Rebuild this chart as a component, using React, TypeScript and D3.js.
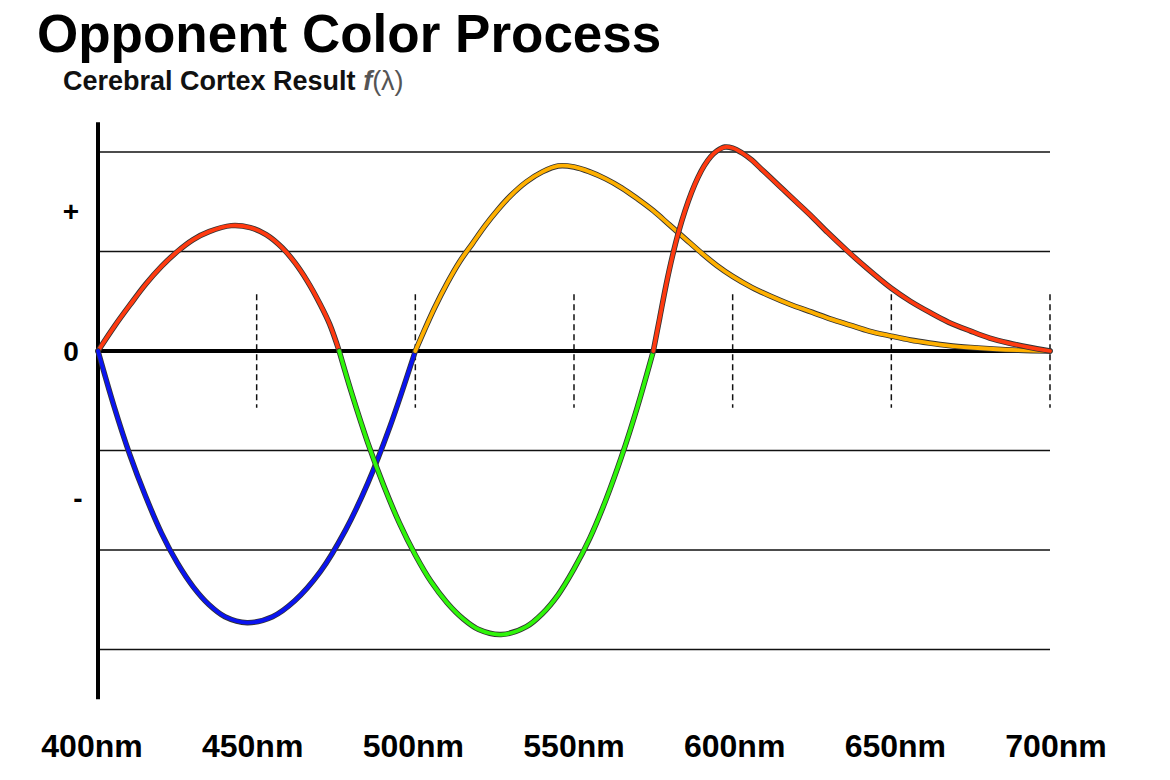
import * as d3 from "d3";

// wavelength (nm) / relative response
const redShort: [number, number][] = [
  [400, 0], [405, 0.24], [410, 0.46], [415, 0.67], [420, 0.85], [425, 1.0],
  [430, 1.12], [435, 1.2], [442, 1.26], [448, 1.24], [453, 1.17], [458, 1.04],
  [462, 0.89], [466, 0.7], [470, 0.47], [473, 0.27], [476, 0],
];
const blue: [number, number][] = [
  [400, 0], [405, -0.55], [410, -1.04], [415, -1.46], [420, -1.83], [425, -2.13],
  [430, -2.37], [435, -2.55], [440, -2.67], [447, -2.73], [455, -2.67],
  [462, -2.51], [470, -2.22], [478, -1.8], [485, -1.33], [492, -0.76], [500, 0],
];
const green: [number, number][] = [
  [476, 0], [480, -0.43], [485, -0.92], [490, -1.35], [495, -1.73], [500, -2.05],
  [505, -2.32], [510, -2.53], [515, -2.69], [520, -2.8], [527, -2.85],
  [535, -2.77], [540, -2.64], [545, -2.45], [550, -2.19], [555, -1.88],
  [560, -1.5], [565, -1.06], [570, -0.56], [575, 0],
];
const yellow: [number, number][] = [
  [500, 0], [503, 0.22], [506, 0.43], [510, 0.68], [514, 0.9], [518, 1.08],
  [522, 1.26], [526, 1.42], [530, 1.56], [535, 1.7], [540, 1.8], [545, 1.86],
  [550, 1.85], [555, 1.8], [560, 1.73], [565, 1.64], [570, 1.53], [575, 1.41],
  [580, 1.27], [585, 1.13], [590, 0.99], [595, 0.86], [600, 0.75], [606, 0.64],
  [612, 0.55], [618, 0.47], [625, 0.39], [631, 0.32], [637, 0.26], [643, 0.2],
  [650, 0.15], [656, 0.11], [662, 0.08], [668, 0.055], [675, 0.035],
  [682, 0.02], [690, 0.008], [700, 0],
];
const redLong: [number, number][] = [
  [575, 0], [577, 0.33], [579, 0.66], [581, 0.95], [583, 1.2], [585, 1.41],
  [587, 1.59], [589, 1.74], [591, 1.86], [593, 1.95], [595, 2.01], [597.5, 2.05],
  [600, 2.04], [603, 1.99], [606, 1.92], [609, 1.83], [612, 1.74], [616, 1.62],
  [620, 1.5], [625, 1.35], [630, 1.19], [636, 1.01], [642, 0.84], [650, 0.63],
  [656, 0.5], [662, 0.39], [668, 0.29], [675, 0.2], [681, 0.13], [687, 0.08],
  [693, 0.04], [700, 0],
];

const xTicks = [400, 450, 500, 550, 600, 650, 700];
const dashTicks = [450, 500, 550, 600, 650, 700];
const gridValues = [2, 1, -1, -2, -3];
const yLabels = [
  { text: "+", v: 1.41 },
  { text: "0", v: 0 },
  { text: "-", v: -1.48 },
];

const series = [
  { name: "red-short", data: redShort, color: "#ff3a10" },
  { name: "blue", data: blue, color: "#0a14f0" },
  { name: "green", data: green, color: "#2ff50a" },
  { name: "yellow", data: yellow, color: "#ffb000" },
  { name: "red-long", data: redLong, color: "#ff3a10" },
];

const width = 1170;
const height = 780;
const font = "'Liberation Sans', Arial, sans-serif";

const x = d3.scaleLinear().domain([400, 700]).range([98, 1050]);
const y = d3.scaleLinear().domain([0, 1]).range([351, 251.5]);

const line = d3
  .line<[number, number]>()
  .x((d) => x(d[0]))
  .y((d) => y(d[1]))
  .curve(d3.curveCatmullRom.alpha(0.5));

export default function App() {
  return (
    <div style={{ position: "absolute", left: 0, top: 0 }}>
      <svg width={width} height={height} viewBox={`0 0 ${width} ${height}`} style={{ display: "block", background: "#fff" }}>
        <text x={37} y={52} fontFamily={font} fontSize={53} fontWeight={700} fill="#000">
          Opponent Color Process
        </text>
        <text x={63} y={90} fontFamily={font} fontSize={27} fontWeight={700} fill="#111">
          Cerebral Cortex Result{" "}
          <tspan fontStyle="italic" fill="#555">f</tspan>
          <tspan fontWeight={400} fill="#555">(λ)</tspan>
        </text>

        {gridValues.map((v) => (
          <line key={v} x1={x(400)} x2={x(700)} y1={y(v)} y2={y(v)} stroke="#111" strokeWidth={1.4} />
        ))}

        {dashTicks.map((t) => (
          <line
            key={t}
            x1={x(t)}
            x2={x(t)}
            y1={y(0.57)}
            y2={y(-0.57)}
            stroke="#111"
            strokeWidth={1.5}
            strokeDasharray="6,4"
          />
        ))}

        <line x1={x(400)} x2={x(700)} y1={y(0)} y2={y(0)} stroke="#000" strokeWidth={4} />
        <line x1={x(400)} x2={x(400)} y1={y(2.3)} y2={y(-3.5)} stroke="#000" strokeWidth={4} />

        {series.map((s) => (
          <g key={s.name}>
            <path d={line(s.data) ?? ""} fill="none" stroke="#333" strokeWidth={5.5} strokeLinecap="round" />
            <path d={line(s.data) ?? ""} fill="none" stroke={s.color} strokeWidth={3.8} strokeLinecap="round" />
          </g>
        ))}

        {yLabels.map((l) => (
          <text
            key={l.text}
            x={l.text === "-" ? 78 : 71}
            y={y(l.v)}
            dy="0.35em"
            textAnchor="middle"
            fontFamily={font}
            fontSize={28}
            fontWeight={700}
            fill="#000"
          >
            {l.text}
          </text>
        ))}

        {xTicks.map((t) => (
          <text
            key={t}
            x={x(t) + (t - 550) * 0.04}
            y={757}
            textAnchor="middle"
            fontFamily={font}
            fontSize={32}
            fontWeight={700}
            fill="#000"
          >
            {t}nm
          </text>
        ))}
      </svg>
    </div>
  );
}
